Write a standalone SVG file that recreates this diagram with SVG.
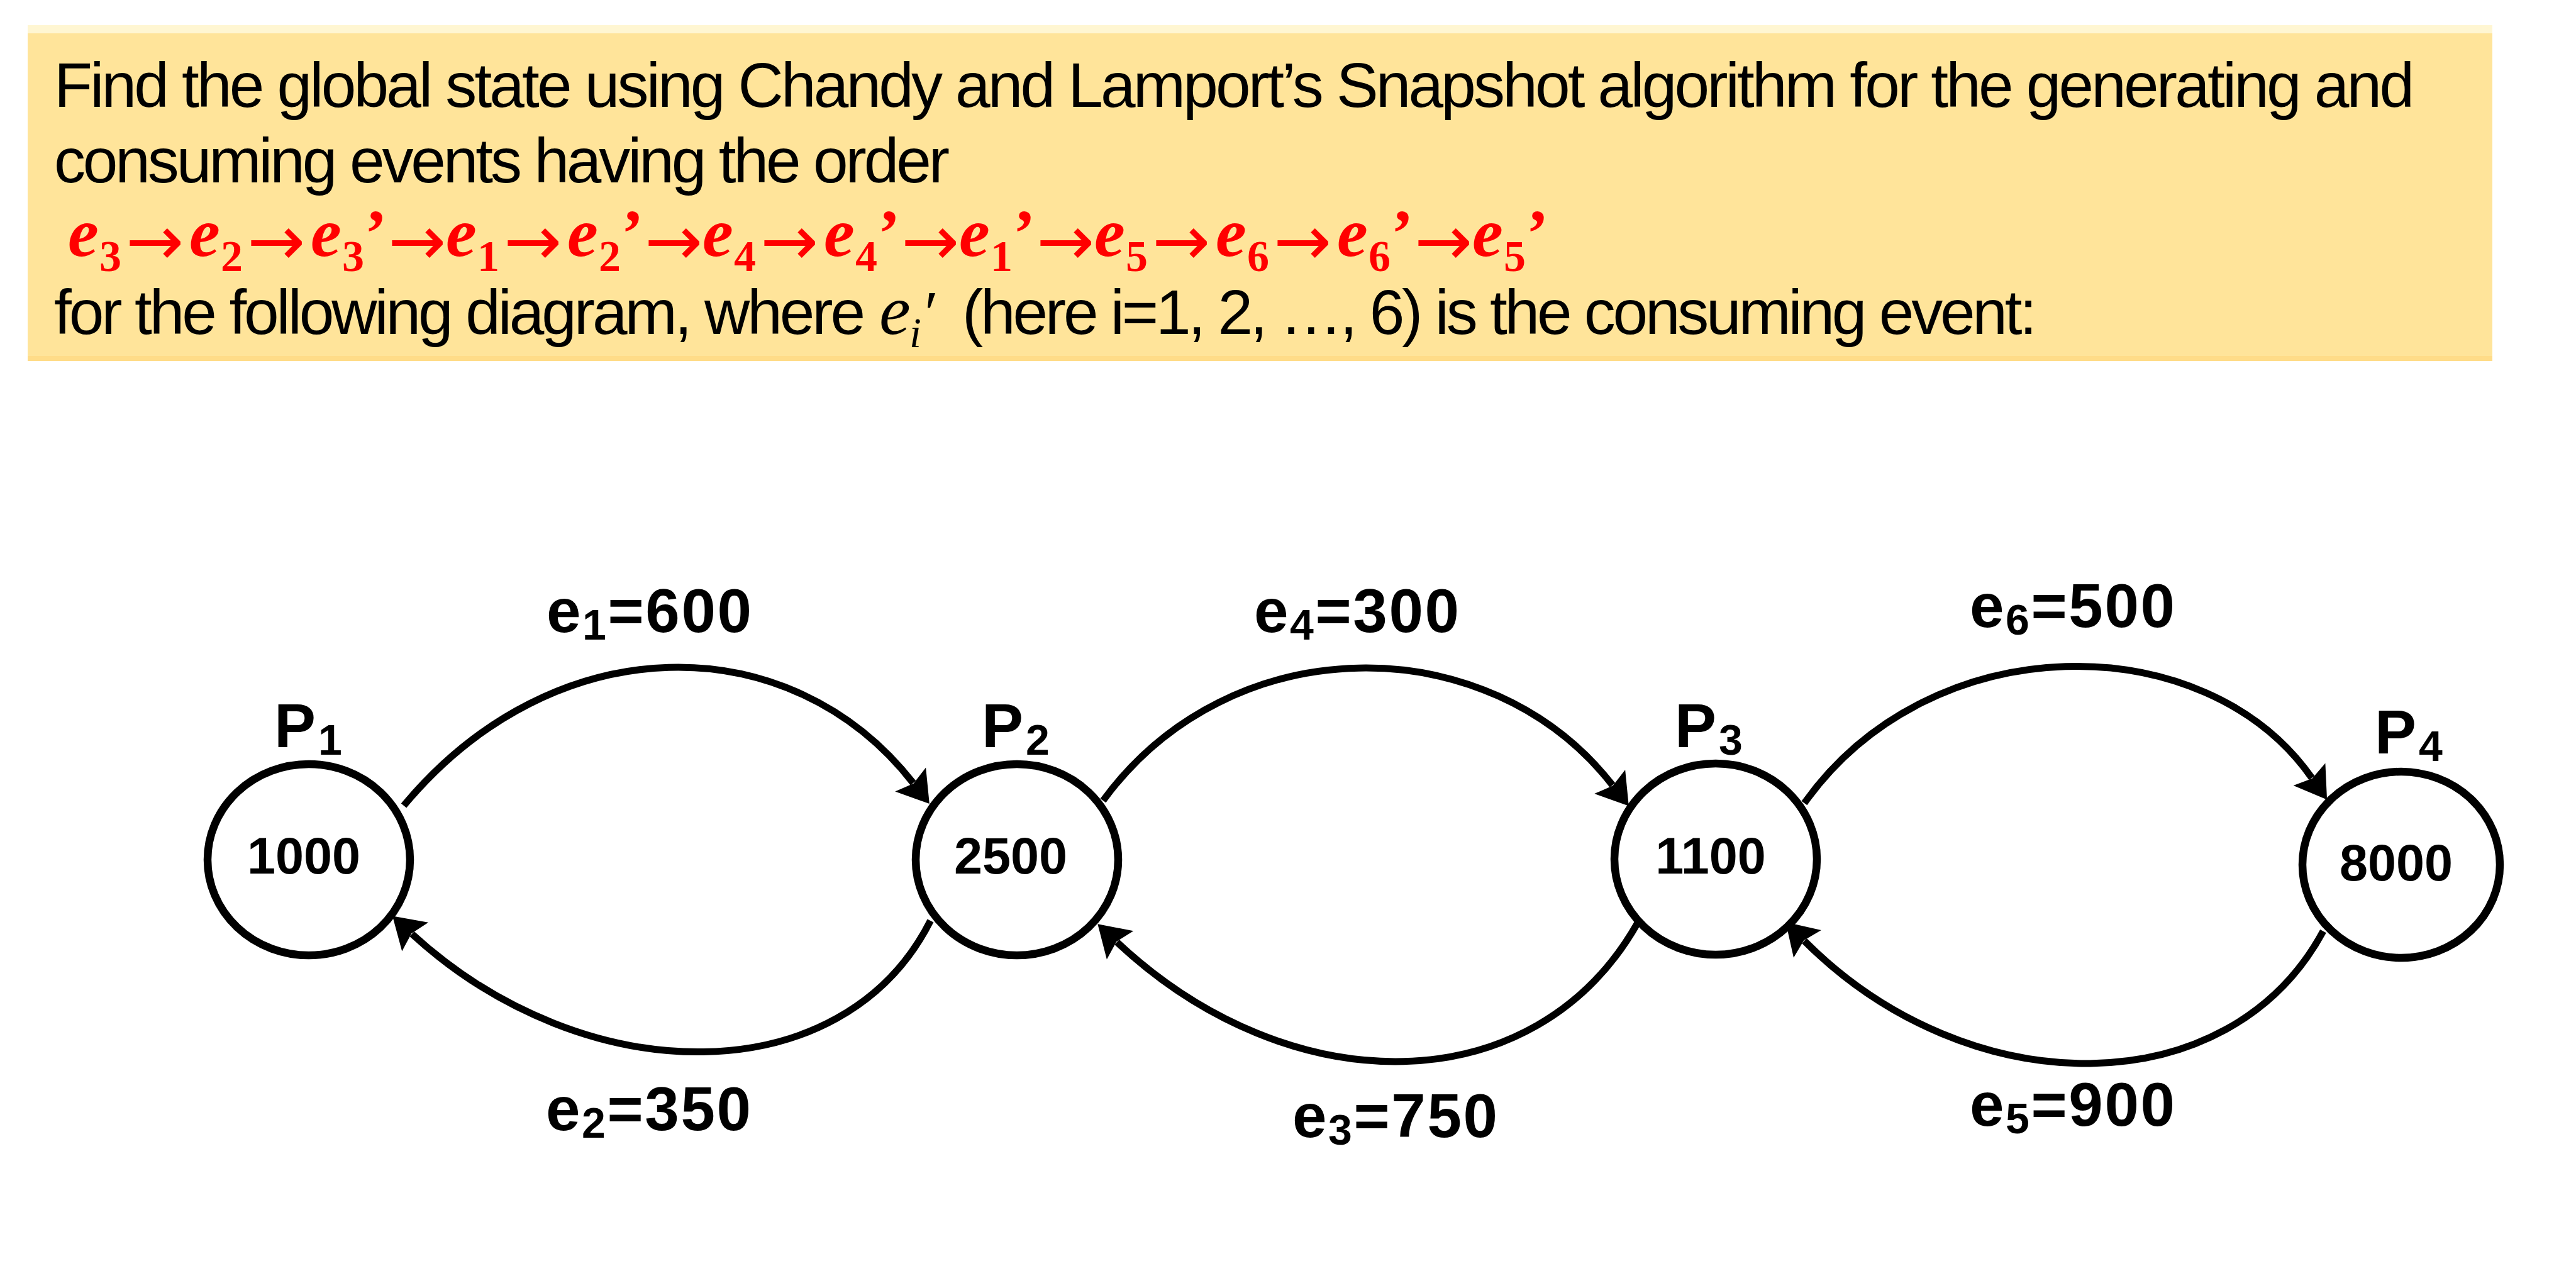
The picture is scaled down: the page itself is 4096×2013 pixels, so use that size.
<svg xmlns="http://www.w3.org/2000/svg" width="4096" height="2013" viewBox="0 0 4096 2013">
<style>
.hdr{font-family:"Liberation Sans",Arial,sans-serif;font-size:100px;fill:#000}
.red{fill:#FF0000}
.em{font-family:"Liberation Serif","Times New Roman",serif;font-weight:bold;font-style:italic;font-size:110px}
.sb{font-family:"Liberation Serif","Times New Roman",serif;font-weight:bold;font-size:70px}
.pr{font-family:"Liberation Serif","Times New Roman",serif;font-weight:bold;font-size:106px}
.ar{font-family:"DejaVu Sans",sans-serif;font-size:110px}
.mi{font-family:"Liberation Serif","Times New Roman",serif;font-style:italic}
.node{fill:#fff;stroke:#000;stroke-width:12.5}
.val{font-family:"Liberation Sans",Arial,sans-serif;font-weight:bold;font-size:81px;text-anchor:middle;fill:#000}
.lbl{font-family:"Liberation Sans",Arial,sans-serif;font-weight:bold;font-size:99px;fill:#000}
.lsub{font-size:68px}
.edge{fill:none;stroke:#000;stroke-width:11;marker-end:url(#ah)}
.el{font-family:"Liberation Sans",Arial,sans-serif;font-weight:bold;font-size:98px;fill:#000}
</style>
<defs>
<marker id="ah" markerUnits="userSpaceOnUse" viewBox="-10 -35 60 70" markerWidth="60" markerHeight="70" refX="0" refY="0" orient="auto">
<path d="M42,0 L-7,-31 L1,0 L-7,31 Z" fill="#000"/>
</marker>
</defs>
<rect x="0" y="0" width="4096" height="2013" fill="#fff"/>
<g id="header">
<rect x="44" y="40" width="3919" height="14" fill="#FFF6D2"/>
<rect x="44" y="53" width="3919" height="521" fill="#FFE49A"/>
<rect x="44" y="566" width="3919" height="8" fill="#FFDC88"/>
<text class="hdr" x="86" y="170" textLength="3753" lengthAdjust="spacing">Find the global state using Chandy and Lamport’s Snapshot algorithm for the generating and</text>
<text class="hdr" x="86" y="290" textLength="1424" lengthAdjust="spacing">consuming events having the order</text>
<text class="red">
<tspan class="em" x="108" y="407">e</tspan><tspan class="sb" x="158" y="431">3</tspan><tspan class="ar" x="200" y="421">→</tspan>
<tspan class="em" x="301" y="407">e</tspan><tspan class="sb" x="351" y="431">2</tspan><tspan class="ar" x="393" y="421">→</tspan>
<tspan class="em" x="494" y="407">e</tspan><tspan class="sb" x="544" y="431">3</tspan><tspan class="pr" x="580" y="407">’</tspan><tspan class="ar" x="617" y="421">→</tspan>
<tspan class="em" x="709" y="407">e</tspan><tspan class="sb" x="759" y="431">1</tspan><tspan class="ar" x="801" y="421">→</tspan>
<tspan class="em" x="902" y="407">e</tspan><tspan class="sb" x="952" y="431">2</tspan><tspan class="pr" x="988" y="407">’</tspan><tspan class="ar" x="1025" y="421">→</tspan>
<tspan class="em" x="1117" y="407">e</tspan><tspan class="sb" x="1167" y="431">4</tspan><tspan class="ar" x="1209" y="421">→</tspan>
<tspan class="em" x="1310" y="407">e</tspan><tspan class="sb" x="1360" y="431">4</tspan><tspan class="pr" x="1396" y="407">’</tspan><tspan class="ar" x="1433" y="421">→</tspan>
<tspan class="em" x="1525" y="407">e</tspan><tspan class="sb" x="1575" y="431">1</tspan><tspan class="pr" x="1611" y="407">’</tspan><tspan class="ar" x="1648" y="421">→</tspan>
<tspan class="em" x="1740" y="407">e</tspan><tspan class="sb" x="1790" y="431">5</tspan><tspan class="ar" x="1832" y="421">→</tspan>
<tspan class="em" x="1933" y="407">e</tspan><tspan class="sb" x="1983" y="431">6</tspan><tspan class="ar" x="2025" y="421">→</tspan>
<tspan class="em" x="2126" y="407">e</tspan><tspan class="sb" x="2176" y="431">6</tspan><tspan class="pr" x="2212" y="407">’</tspan><tspan class="ar" x="2249" y="421">→</tspan>
<tspan class="em" x="2341" y="407">e</tspan><tspan class="sb" x="2391" y="431">5</tspan><tspan class="pr" x="2427" y="407">’</tspan>
</text>
<text class="hdr" x="86" y="531" textLength="1290" lengthAdjust="spacing">for the following diagram, where</text>
<text class="hdr"><tspan class="mi" x="1398" y="531" font-size="112">e</tspan><tspan class="mi" x="1446" y="552" font-size="68">i</tspan><tspan class="mi" x="1464" y="531" font-size="100">′</tspan></text>
<text class="hdr" x="1530" y="531" textLength="1709" lengthAdjust="spacing">(here i=1, 2, …, 6) is the consuming event:</text>
</g>
<g id="connectors">
<path id="c-e1" class="edge" d="M642,1281 C881,994 1256,994 1452,1245"/>
<path id="c-e4" class="edge" d="M1754,1273 C1956,996 2367,996 2564,1248.5"/>
<path id="c-e6" class="edge" d="M2869,1277 C3070,994 3506,994 3676,1237"/>
<path id="c-e2" class="edge" d="M1479.5,1464 C1340,1740 930,1737 655,1485"/>
<path id="c-e3" class="edge" d="M2603.6,1468 C2440,1756 2051,1756 1776,1498"/>
<path id="c-e5" class="edge" d="M3694,1480.6 C3544,1758.5 3131,1758.5 2869,1496"/>
<text class="el" x="869" y="1005" textLength="326" lengthAdjust="spacing">e<tspan class="lsub" dy="12">1</tspan><tspan dy="-12">=600</tspan></text>
<text class="el" x="868" y="1797" textLength="326" lengthAdjust="spacing">e<tspan class="lsub" dy="12">2</tspan><tspan dy="-12">=350</tspan></text>
<text class="el" x="1994" y="1005" textLength="326" lengthAdjust="spacing">e<tspan class="lsub" dy="12">4</tspan><tspan dy="-12">=300</tspan></text>
<text class="el" x="2055" y="1808" textLength="326" lengthAdjust="spacing">e<tspan class="lsub" dy="12">3</tspan><tspan dy="-12">=750</tspan></text>
<text class="el" x="3132" y="997" textLength="326" lengthAdjust="spacing">e<tspan class="lsub" dy="12">6</tspan><tspan dy="-12">=500</tspan></text>
<text class="el" x="3132" y="1790" textLength="326" lengthAdjust="spacing">e<tspan class="lsub" dy="12">5</tspan><tspan dy="-12">=900</tspan></text>
</g>
<g id="P1">
<ellipse class="node" cx="491" cy="1367" rx="161" ry="152"/>
<text class="lbl" x="436" y="1188">P<tspan class="lsub" dx="4" dy="12">1</tspan></text>
<text class="val" x="483" y="1389">1000</text>
</g>
<g id="P2">
<ellipse class="node" cx="1617" cy="1367" rx="161" ry="152"/>
<text class="lbl" x="1561" y="1188">P<tspan class="lsub" dx="4" dy="12">2</tspan></text>
<text class="val" x="1607" y="1389">2500</text>
</g>
<g id="P3">
<ellipse class="node" cx="2728" cy="1366" rx="161" ry="152"/>
<text class="lbl" x="2663" y="1188">P<tspan class="lsub" dx="4" dy="12">3</tspan></text>
<text class="val" x="2720" y="1389">1100</text>
</g>
<g id="P4">
<ellipse class="node" cx="3818" cy="1375" rx="157" ry="148"/>
<text class="lbl" x="3776" y="1198">P<tspan class="lsub" dx="4" dy="12">4</tspan></text>
<text class="val" x="3810" y="1400">8000</text>
</g>
</svg>
